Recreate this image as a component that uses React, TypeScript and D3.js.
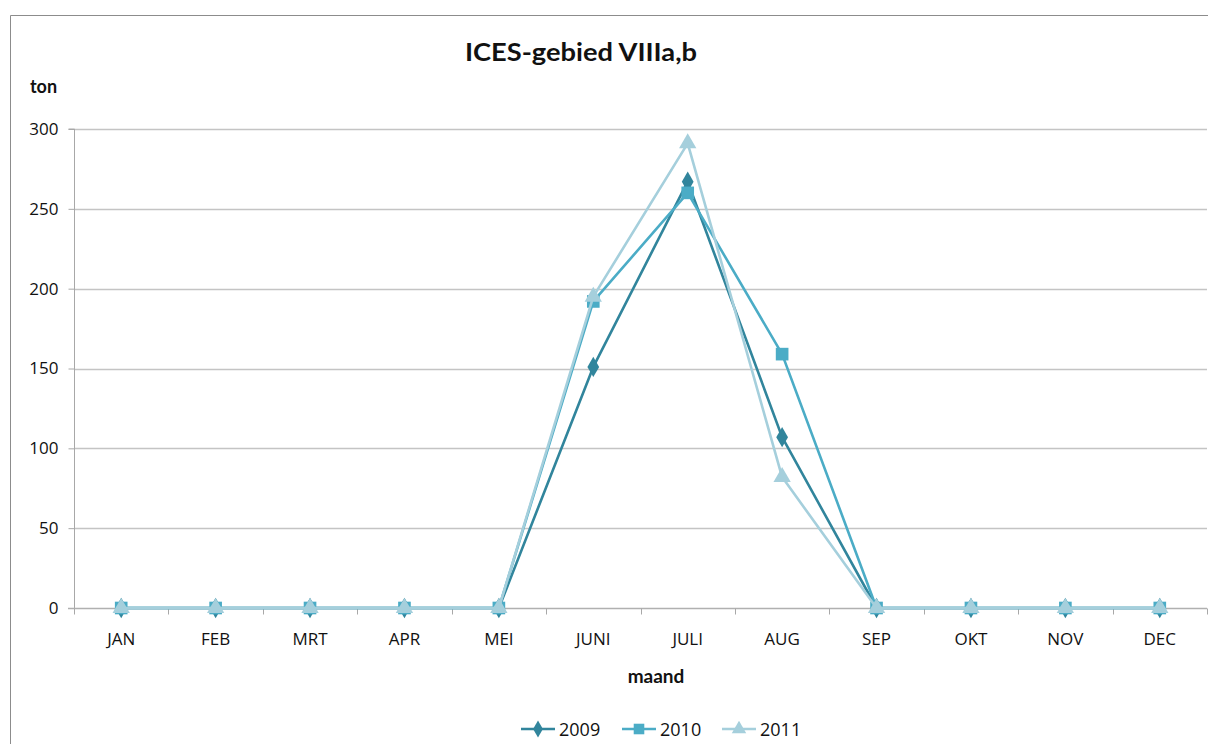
import * as React from 'react'
import { useEffect, useRef } from 'react'
import * as d3 from 'd3'

const months = ['JAN', 'FEB', 'MRT', 'APR', 'MEI', 'JUNI', 'JULI', 'AUG', 'SEP', 'OKT', 'NOV', 'DEC']
const years = ['2009', '2010', '2011']
const values2009 = [0, 0, 0, 0, 0, 151, 267, 107, 0, 0, 0, 0]
const values2010 = [0, 0, 0, 0, 0, 192, 260, 159, 0, 0, 0, 0]
const values2011 = [0, 0, 0, 0, 0, 195, 291, 82, 0, 0, 0, 0]
const yTicks = [0, 50, 100, 150, 200, 250, 300]
const colors = ['#31859c', '#4bacc6', '#a5cfdc']
const symbols = [d3.symbolDiamond, d3.symbolSquare, d3.symbolTriangle]

const App = () => {
  const ref = useRef<SVGSVGElement | null>(null)

  useEffect(() => {
    const width = 1208
    const height = 744
    const svg = d3.select(ref.current)
    svg.selectAll('*').remove()

    const left = 74, right = 1207, top = 129, bottom = 608
    const x = d3.scaleBand().domain(months).range([left, right])
    const y = d3.scaleLinear().domain([0, 300]).range([bottom, top])
    const cx = (m: string) => (x(m) as number) + x.bandwidth() / 2
    const font = 'Open Sans, sans-serif'

    svg.append('rect').attr('x', 0).attr('y', 0).attr('width', width).attr('height', height).attr('fill', '#fff')
    // outer border
    svg.append('path').attr('d', `M10.5,${height} V15.5 H${width}`).attr('fill', 'none').attr('stroke', '#8c8c8c').attr('stroke-width', 1)

    // gridlines
    svg.append('g').selectAll('line').data(yTicks.filter(t => t > 0)).enter().append('line')
      .attr('x1', left).attr('x2', right)
      .attr('y1', d => Math.round(y(d)) + 0.5).attr('y2', d => Math.round(y(d)) + 0.5)
      .attr('stroke', '#c4c4c4').attr('stroke-width', 1.5)

    // y axis
    const gy = svg.append('g').attr('transform', `translate(${left + 0.5},0)`)
      .call(d3.axisLeft(y).tickValues(yTicks).tickSize(6).tickPadding(10))
    gy.attr('font-family', font).attr('font-size', 17)
    gy.select('.domain').attr('stroke', '#a8a8a8').attr('d', `M-6,${top}H0V${bottom}`)
    gy.selectAll('.tick line').attr('stroke', '#a8a8a8')
    gy.selectAll('.tick text').attr('fill', '#111')

    // x axis
    const gx = svg.append('g').attr('transform', `translate(0,${bottom + 0.5})`)
    gx.append('line').attr('x1', left - 6).attr('x2', right).attr('stroke', '#b0b0b0').attr('stroke-width', 1.5)
    gx.selectAll('line.tk').data(months.map(m => x(m) as number).concat([right])).enter().append('line')
      .attr('class', 'tk').attr('x1', d => Math.round(d) + 0.5).attr('x2', d => Math.round(d) + 0.5)
      .attr('y1', 0).attr('y2', 6).attr('stroke', '#a8a8a8')
    gx.selectAll('text').data(months).enter().append('text')
      .attr('x', d => cx(d)).attr('y', 36).attr('text-anchor', 'middle')
      .attr('font-family', font).attr('font-size', 17).attr('fill', '#111')
      .text(d => d)

    // titles
    svg.append('text').attr('x', 581).attr('y', 61).attr('text-anchor', 'middle')
      .attr('font-family', 'Lato, sans-serif').attr('font-weight', 'bold').attr('font-size', 25)
      .attr('textLength', 232).attr('lengthAdjust', 'spacingAndGlyphs').attr('fill', '#111')
      .text('ICES-gebied VIIIa,b')
    svg.append('text').attr('x', 30).attr('y', 93)
      .attr('font-family', 'Lato, sans-serif').attr('font-weight', 'bold').attr('font-size', 18).attr('fill', '#111')
      .text('ton')
    svg.append('text').attr('x', 656).attr('y', 683).attr('text-anchor', 'middle')
      .attr('font-family', 'Lato, sans-serif').attr('font-weight', 'bold').attr('font-size', 19).attr('fill', '#111')
      .text('maand')

    const series = [values2009, values2010, values2011]
    const line = d3.line<number>().x((d, i) => cx(months[i])).y(d => y(d))
    const sizes = [120, 160, 130]

    series.forEach((vals, si) => {
      const g = svg.append('g')
      g.append('path').datum(vals).attr('d', line).attr('fill', 'none')
        .attr('stroke', colors[si]).attr('stroke-width', 2.6).attr('stroke-linejoin', 'round')
      g.selectAll('path.mk').data(vals).enter().append('path').attr('class', 'mk')
        .attr('transform', (d, i) => `translate(${cx(months[i])},${y(d)})`)
        .attr('d', d3.symbol().type(symbols[si]).size(sizes[si]) as any)
        .attr('fill', colors[si])
    })

    // legend
    const legendX = [521, 622, 722]
    years.forEach((yr, i) => {
      const g = svg.append('g').attr('transform', `translate(${legendX[i]},729)`)
      g.append('line').attr('x1', 0).attr('x2', 34).attr('stroke', colors[i]).attr('stroke-width', 2.6)
      g.append('path').attr('transform', 'translate(17,0)')
        .attr('d', d3.symbol().type(symbols[i]).size(sizes[i] * 0.7) as any).attr('fill', colors[i])
      g.append('text').attr('x', 38).attr('y', 6.5).attr('font-family', font)
        .attr('font-size', 18).attr('fill', '#111').text(yr)
    })
  }, [])

  return (
    <svg ref={ref} width={1208} height={744} style={{ position: 'absolute', left: 0, top: 0 }} />
  )
}

export default App
